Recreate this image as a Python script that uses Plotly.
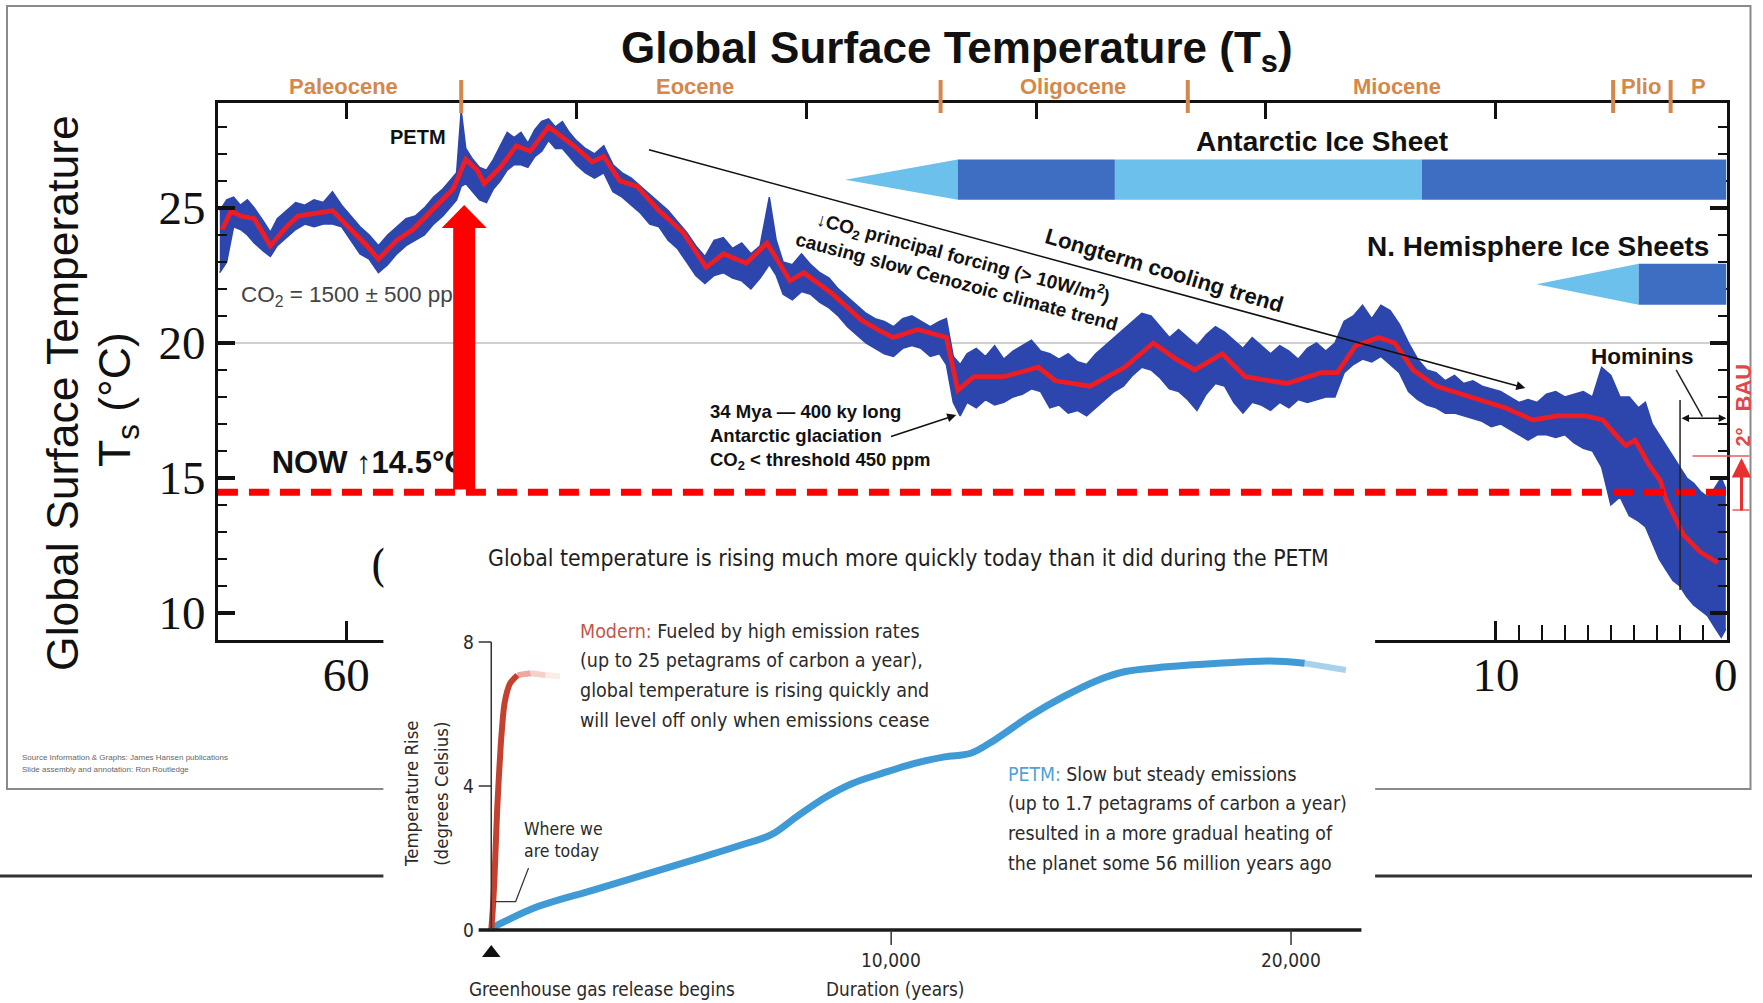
import plotly.graph_objects as go

W, H = 1763, 1003
# the page is photographed about 0.6 % narrower than the layout width; place
# everything against that effective width so positions land where intended
W_EFF = 1752.5


def px(x):
    return x / W_EFF


def py(y):
    return 1 - y / H


# ------------------------------------------------------------------
# Main chart data (age in Myr before present, temperature in deg C)
# ------------------------------------------------------------------
red_age = [65.4, 65.0, 64.6, 64.0, 63.3, 62.6, 62.1, 61.3, 60.6, 59.8,
           59.1, 58.6, 57.8, 57.1, 56.1, 55.35, 54.8, 54.3, 54.0, 53.3,
           52.6, 52.0, 51.2, 50.7, 50.1, 49.3, 48.8, 48.1, 47.35, 46.4,
           45.35, 44.35, 43.6, 42.6, 41.7, 40.7, 40.1, 38.9, 37.6, 36.9,
           36.2, 35.15, 33.9, 33.4, 32.7, 31.4, 29.9, 29.15, 27.65, 26.15,
           24.9, 23.9, 23.1, 21.9, 20.9, 19.1, 17.6, 16.9, 16.1, 15.1,
           14.4, 13.6, 12.6, 11.1, 9.6, 8.4, 7.35, 6.1, 5.35, 4.85,
           4.35, 3.95, 3.35, 2.85, 2.6, 1.85, 1.1, 0.35]
red_temp = [24.2, 24.9, 24.7, 24.6, 23.6, 24.3, 24.7, 24.8, 24.9, 24.2,
            23.6, 23.1, 23.8, 24.2, 25.05, 25.7, 26.8, 26.4, 25.9, 26.5,
            27.3, 27.1, 28.0, 27.7, 27.3, 26.7, 26.9, 26.0, 25.8, 24.9,
            24.1, 22.8, 23.3, 22.95, 23.7, 22.3, 22.6, 21.85, 20.85, 20.5,
            20.2, 20.5, 20.2, 18.25, 18.75, 18.75, 19.1, 18.6, 18.4, 19.1,
            20.0, 19.4, 19.0, 19.6, 18.75, 18.5, 18.9, 18.9, 19.9, 20.2,
            20.0, 19.0, 18.4, 18.0, 17.6, 17.15, 17.3, 17.3, 17.15, 16.65,
            16.2, 16.4, 15.5, 14.9, 14.2, 12.9, 12.25, 11.86]

blue_age = [65.5, 65.2, 64.9, 64.6, 64.3, 64.0, 63.6, 63.3, 63.0, 62.6,
            62.2, 61.8, 61.4, 61.0, 60.6, 60.2, 59.8, 59.4, 59.0, 58.6,
            58.2, 57.8, 57.4, 57.0, 56.6, 56.2, 55.8, 55.5, 55.2, 55.0,
            54.8, 54.5, 54.2, 53.9, 53.6, 53.3, 53.0, 52.7, 52.4, 52.1,
            51.8, 51.5, 51.2, 50.9, 50.6, 50.3, 50.0, 49.6, 49.2, 48.8,
            48.4, 48.0, 47.6, 47.2, 46.8, 46.4, 46.0, 45.6, 45.2, 44.8,
            44.4, 44.0, 43.6, 43.2, 42.8, 42.4, 42.0, 41.6, 41.3, 41.0,
            40.6, 40.2, 39.8, 39.4, 39.0, 38.6, 38.2, 37.8, 37.4, 37.0,
            36.6, 36.2, 35.8, 35.4, 35.0, 34.6, 34.2, 33.9, 33.6, 33.3,
            33.0, 32.6, 32.2, 31.8, 31.4, 31.0, 30.6, 30.2, 29.8, 29.4,
            29.0, 28.6, 28.2, 27.8, 27.4, 27.0, 26.6, 26.2, 25.8, 25.4,
            25.0, 24.6, 24.2, 23.8, 23.4, 23.0, 22.6, 22.2, 21.8, 21.4,
            21.0, 20.6, 20.2, 19.8, 19.4, 19.0, 18.6, 18.2, 17.8, 17.4,
            17.0, 16.6, 16.2, 15.8, 15.4, 15.0, 14.6, 14.2, 13.8, 13.4,
            13.0, 12.6, 12.2, 11.8, 11.4, 11.0, 10.6, 10.2, 9.8, 9.4,
            9.0, 8.6, 8.2, 7.8, 7.4, 7.0, 6.6, 6.2, 5.8, 5.4,
            5.0, 4.6, 4.2, 3.8, 3.5, 3.2, 2.9, 2.6, 2.3, 2.0,
            1.7, 1.4, 1.1, 0.8, 0.5, 0.2, 0.0]
blue_hi = [24.9, 25.3, 25.4, 25.1, 25.3, 25.0, 24.5, 24.1, 24.6, 24.9,
           25.2, 25.1, 25.3, 25.2, 25.6, 25.1, 24.7, 24.3, 24.0, 23.6,
           24.0, 24.3, 24.6, 24.7, 25.0, 25.4, 25.7, 26.0, 26.3, 28.6,
           27.2, 26.8, 26.5, 26.4, 26.8, 27.3, 27.8, 27.6, 27.8, 27.4,
           27.9, 28.2, 28.3, 28.0, 28.2, 27.8, 27.5, 27.2, 27.0, 27.3,
           26.6, 26.3, 26.1, 25.8, 25.5, 25.2, 24.9, 24.5, 24.1, 23.6,
           23.2, 23.8, 23.9, 23.5, 23.7, 23.3, 23.6, 25.4, 23.8, 23.0,
           22.9, 23.3, 22.9, 22.6, 22.4, 22.0, 21.7, 21.4, 21.1, 20.9,
           20.8, 20.6, 20.9, 21.0, 20.8, 20.6, 20.8, 20.9, 19.5, 19.2,
           19.6, 19.8, 19.5, 19.9, 19.4, 19.7, 19.9, 20.1, 19.7, 19.6,
           19.4, 19.6, 19.3, 19.2, 19.6, 19.9, 20.2, 20.5, 20.8, 21.1,
           21.0, 20.6, 20.2, 20.5, 20.2, 19.9, 20.3, 20.6, 20.4, 20.1,
           19.8, 20.2, 19.9, 19.6, 19.9, 19.7, 19.4, 19.8, 20.0, 19.7,
           20.0, 20.8, 21.0, 21.4, 20.9, 21.4, 21.2, 20.7, 20.0, 19.4,
           19.0, 18.9, 18.6, 18.8, 18.5, 18.6, 18.4, 18.3, 18.2, 18.0,
           17.8, 17.9, 17.8, 18.1, 18.2, 18.0, 18.1, 18.2, 18.0, 19.1,
           18.8, 18.0, 18.0, 17.6, 17.8, 17.0, 16.6, 16.2, 15.8, 15.4,
           15.0, 14.8, 14.5, 14.3, 14.6, 15.0, 14.6]
blue_lo = [22.6, 23.0, 24.3, 24.2, 24.0, 23.7, 23.4, 23.2, 23.6, 23.9,
           24.2, 24.4, 24.3, 24.4, 24.4, 24.3, 23.8, 23.3, 23.1, 22.6,
           22.9, 23.3, 23.6, 23.8, 24.0, 24.4, 24.7, 25.0, 25.3, 25.8,
           25.9, 25.6, 25.3, 25.2, 25.7, 26.0, 26.4, 26.6, 26.6, 26.5,
           26.9, 27.1, 27.5, 27.2, 27.2, 26.9, 26.6, 26.3, 26.1, 26.3,
           25.6, 25.4, 25.1, 24.8, 24.4, 24.3, 23.8, 23.5, 23.0, 22.5,
           22.2, 22.5, 22.6, 22.4, 22.3, 22.0, 22.4, 22.9, 22.5, 21.8,
           21.6, 21.9, 21.8, 21.5, 21.3, 21.0, 20.6, 20.3, 20.0, 19.8,
           19.6, 19.5, 19.8, 19.9, 19.8, 19.5, 19.6, 19.2, 17.8, 17.3,
           17.8, 17.6, 17.9, 17.7, 17.8, 18.0, 18.1, 18.3, 18.2, 17.6,
           17.7, 17.4, 17.5, 17.3, 17.6, 17.9, 18.2, 18.4, 18.8, 19.1,
           19.0, 18.7, 18.3, 18.2, 17.9, 17.5, 18.1, 18.5, 18.4, 17.8,
           17.4, 17.8, 17.7, 17.5, 17.8, 17.6, 17.9, 17.8, 17.9, 18.0,
           18.0, 18.9, 19.2, 19.4, 19.3, 19.5, 19.2, 18.9, 18.2, 17.9,
           17.7, 17.6, 17.4, 17.4, 17.3, 17.2, 17.1, 16.9, 17.0, 16.8,
           16.6, 16.4, 16.6, 16.6, 16.5, 16.6, 16.3, 16.1, 16.0, 15.4,
           14.0, 14.3, 13.6, 13.4, 13.2, 12.6, 12.0, 11.6, 11.2, 11.0,
           10.6, 10.3, 10.1, 9.9, 9.5, 9.1, 9.4]

x_ticks = [60, 50, 40, 30, 20, 10, 0]
x_ticktext = ["60", "50", "40", "30", "20", "10", "0"]
x_minor = [9, 8, 7, 6, 5, 4, 3, 2, 1]
y_ticks = [10, 15, 20, 25]
y_minor = [11, 12, 13, 14, 16, 17, 18, 19, 21, 22, 23, 24, 26, 27, 28]

epoch_names = ["Paleocene", "Eocene", "Oligocene", "Miocene", "Plio", "P"]
epoch_label_age = [60.1, 44.85, 28.4, 14.3, 3.7, 1.2]
epoch_bounds = [55.0, 34.15, 23.4, 4.9, 2.4]

# ice sheets
antarctic_tip = [38.3, 33.4]
antarctic_blocks = [(33.4, 26.57, "dark"), (26.57, 13.22, "light"), (13.22, -0.03, "dark")]
antarctic_band = [25.30, 26.79]
nh_tip = [8.24, 3.79]
nh_blocks = [(3.79, -0.03, "dark")]
nh_band = [21.41, 22.93]

now_temp = 14.47
petm_arrow_age = 54.87
petm_arrow_top = 25.11

# ------------------------------------------------------------------
# Inset data (years since release, temperature rise in deg C)
# ------------------------------------------------------------------
petm_years = [0, 1165, 2550, 3940, 5330, 6250, 6990, 7640, 8380, 9030,
              9770, 10590, 11340, 11990, 12590, 13450, 14310, 15170, 15860, 16890,
              18185, 19475, 20340, 21370]
petm_rise = [0.05, 0.65, 1.11, 1.57, 2.04, 2.36, 2.64, 3.15, 3.70, 4.07,
             4.35, 4.63, 4.81, 4.91, 5.28, 5.93, 6.48, 6.94, 7.18, 7.31,
             7.41, 7.47, 7.41, 7.22]
modern_years = [0, 40, 82, 147, 240, 332, 470, 655, 980, 1350, 1715]
modern_rise = [0.0, 0.6, 1.48, 3.33, 5.19, 6.30, 6.85, 7.08, 7.13, 7.08, 7.04]
inset_xticks = [10000, 20000]
inset_xticktext = ["10,000", "20,000"]
inset_yticks = [0, 4, 8]

modern_lines = ["<span style='color:#c0574a'>Modern:</span> Fueled by high emission rates",
                "(up to 25 petagrams of carbon a year),",
                "global temperature is rising quickly and",
                "will level off only when emissions cease"]
petm_lines = ["<span style='color:#4ea2d6'>PETM:</span> Slow but steady emissions",
              "(up to 1.7 petagrams of carbon a year)",
              "resulted in a more gradual heating of",
              "the planet some 56 million years ago"]

# ------------------------------------------------------------------
SANS = "Liberation Sans, Arial, sans-serif"
SERIF = "Liberation Serif, Times New Roman, serif"
NARROW = "DejaVu Sans Condensed, Liberation Sans Narrow, sans-serif"
BLUE_DATA = "#2c46ad"
RED = "#ee1c24"
ORANGE = "#d4884c"
ICE_LIGHT = "#6cc0ec"
ICE_DARK = "#3e6ec2"
INSET_BLUE = "#3f9ad6"
INSET_RED = "#c4412f"
INK = "#111111"
GREY_TXT = "#2a2a2a"

fig = go.Figure()

fig.add_trace(go.Scatter(x=blue_age, y=blue_lo, mode="lines",
                         line=dict(color=BLUE_DATA, width=1.5),
                         hoverinfo="skip", showlegend=False))
fig.add_trace(go.Scatter(x=blue_age, y=blue_hi, mode="lines", fill="tonexty",
                         fillcolor=BLUE_DATA,
                         line=dict(color=BLUE_DATA, width=1.5),
                         hoverinfo="skip", showlegend=False))
fig.add_trace(go.Scatter(x=red_age, y=red_temp, mode="lines",
                         line=dict(color=RED, width=4.8),
                         hoverinfo="skip", showlegend=False))

# text that sits beneath the big red arrow / inset box
fig.add_trace(go.Scatter(x=[64.58], y=[21.71], mode="text",
                         text=["CO<sub>2</sub> = 1500 ± 500 ppm"],
                         textposition="middle right",
                         textfont=dict(family=SANS, size=22.5, color="#444"),
                         hoverinfo="skip", showlegend=False))
fig.add_trace(go.Scatter(x=[63.24], y=[15.48], mode="text",
                         text=["<b>NOW ↑14.5°C</b>"],
                         textposition="middle right",
                         textfont=dict(family=SANS, size=31, color=INK),
                         hoverinfo="skip", showlegend=False))
fig.add_trace(go.Scatter(x=[58.9], y=[11.67], mode="text",
                         text=["(C"], textposition="middle right",
                         textfont=dict(family=SERIF, size=46, color=INK),
                         hoverinfo="skip", showlegend=False))

# dummy trace so the top (epoch-tick) axis is drawn
fig.add_trace(go.Scatter(x=[30], y=[20], xaxis="x3", yaxis="y", mode="markers",
                         marker=dict(opacity=0), hoverinfo="skip", showlegend=False))

# ---------------- inset traces ----------------
fig.add_trace(go.Scatter(x=petm_years[:-1], y=petm_rise[:-1], xaxis="x2", yaxis="y2",
                         mode="lines", line=dict(color=INSET_BLUE, width=7, shape="spline", smoothing=1),
                         hoverinfo="skip", showlegend=False))
fig.add_trace(go.Scatter(x=petm_years[-2:], y=petm_rise[-2:], xaxis="x2", yaxis="y2",
                         mode="lines", opacity=0.45,
                         line=dict(color=INSET_BLUE, width=6),
                         hoverinfo="skip", showlegend=False))
fig.add_trace(go.Scatter(x=modern_years[:8], y=modern_rise[:8], xaxis="x2", yaxis="y2",
                         mode="lines", line=dict(color=INSET_RED, width=6, shape="spline", smoothing=0.6),
                         hoverinfo="skip", showlegend=False))
for i, op in zip(range(7, 10), [0.55, 0.3, 0.12]):
    fig.add_trace(go.Scatter(x=modern_years[i:i + 2], y=modern_rise[i:i + 2], xaxis="x2", yaxis="y2",
                             mode="lines", opacity=op,
                             line=dict(color="#d9684f", width=6),
                             hoverinfo="skip", showlegend=False))
fig.add_trace(go.Scatter(x=[0], y=[-0.64], xaxis="x2", yaxis="y2", mode="markers",
                         marker=dict(symbol="triangle-up", size=16, color="#111"),
                         hoverinfo="skip", showlegend=False))

# ------------------------------------------------------------------
shapes = []
shapes.append(dict(type="rect", xref="paper", yref="paper", x0=px(7), x1=px(1751),
                   y0=py(6), y1=py(789), line=dict(color="#8a8a8a", width=2), layer="below"))
shapes.append(dict(type="line", xref="paper", yref="paper", x0=0, x1=1,
                   y0=py(876), y1=py(876), line=dict(color="#333", width=3), layer="below"))
shapes.append(dict(type="line", xref="x", yref="y", x0=65.58, x1=-0.03, y0=20, y1=20,
                   line=dict(color="#d0d0d0", width=2), layer="below"))
for b in epoch_bounds:
    shapes.append(dict(type="line", xref="x", yref="paper", x0=b, x1=b,
                       y0=py(80), y1=py(113), line=dict(color=ORANGE, width=4), layer="above"))


def ice_sheet(tip, blocks, band):
    lo, hi = band
    mid = (lo + hi) / 2
    out = [dict(type="path", xref="x", yref="y",
                path=f"M {tip[0]},{mid} L {tip[1]},{hi} L {tip[1]},{lo} Z",
                fillcolor=ICE_LIGHT, line=dict(width=0), layer="above")]
    for a0, a1, kind in blocks:
        out.append(dict(type="rect", xref="x", yref="y", x0=a0, x1=a1, y0=lo, y1=hi,
                        fillcolor=ICE_DARK if kind == "dark" else ICE_LIGHT,
                        line=dict(width=0), layer="above"))
    return out


shapes += ice_sheet(antarctic_tip, antarctic_blocks, antarctic_band)
shapes += ice_sheet(nh_tip, nh_blocks, nh_band)

shapes.append(dict(type="line", xref="x", yref="y", x0=65.58, x1=-0.03, y0=now_temp, y1=now_temp,
                   line=dict(color="#ff0000", width=7, dash="20px,11px"), layer="above"))
shapes.append(dict(type="rect", xref="x", yref="y", x0=petm_arrow_age + 0.478, x1=petm_arrow_age - 0.478,
                   y0=now_temp + 0.1, y1=24.3, fillcolor="#ff0000", line=dict(width=0), layer="above"))
shapes.append(dict(type="path", xref="x", yref="y",
                   path=f"M {petm_arrow_age + 0.98},24.26 L {petm_arrow_age - 0.98},24.26 L {petm_arrow_age},{petm_arrow_top} Z",
                   fillcolor="#ff0000", line=dict(width=0), layer="above"))
shapes.append(dict(type="line", xref="x", yref="y", x0=1.99, x1=1.99, y0=17.89, y1=10.85,
                   line=dict(color="#222", width=1.5), layer="above"))
shapes.append(dict(type="line", xref="x", yref="y", x0=2.16, x1=1.02, y0=19.0, y1=17.27,
                   line=dict(color="#222", width=1.5), layer="above"))
shapes.append(dict(type="line", xref="paper", yref="paper", x0=px(1693), x1=px(1750), y0=py(456), y1=py(456),
                   line=dict(color="#e85a5a", width=1.5), layer="above"))
shapes.append(dict(type="line", xref="paper", yref="paper", x0=px(1733), x1=px(1750), y0=py(510), y1=py(510),
                   line=dict(color="#e85a5a", width=1.5), layer="above"))

# inset axes drawn by hand
shapes.append(dict(type="line", xref="x2", yref="y2", x0=-315, x1=21760, y0=0, y1=0,
                   line=dict(color="#1a1a1a", width=3.5), layer="above"))
shapes.append(dict(type="line", xref="x2", yref="y2", x0=0, x1=0, y0=0, y1=8,
                   line=dict(color="#333", width=1.5), layer="above"))
for v in inset_yticks[1:]:
    shapes.append(dict(type="line", xref="x2", yref="y2", x0=-315, x1=0, y0=v, y1=v,
                       line=dict(color="#333", width=1.5), layer="above"))
for v in inset_xticks:
    shapes.append(dict(type="line", xref="x2", yref="y2", x0=v, x1=v, y0=0, y1=-0.42,
                       line=dict(color="#333", width=1.5), layer="above"))
shapes.append(dict(type="path", xref="x2", yref="y2", path="M 932,1.72 L 610,0.79 L 100,0.79",
                   line=dict(color="#333", width=1.2), layer="above"))

# ------------------------------------------------------------------
ann = []


def note(text, x, y, size, family=SANS, color=INK, xanchor="center", angle=0, **kw):
    d = dict(xref="paper", yref="paper", x=px(x), y=py(y), showarrow=False, text=text,
             xanchor=xanchor, yanchor="middle", textangle=angle, borderpad=0,
             font=dict(family=family, size=size, color=color))
    d.update(kw)
    ann.append(d)


note("<b>Global Surface Temperature (T<sub>s</sub>)</b>", 957, 51, 44)
for name, a in zip(epoch_names, epoch_label_age):
    ann.append(dict(xref="x", yref="paper", x=a, y=py(87), showarrow=False, text=f"<b>{name}</b>",
                    xanchor="center", yanchor="middle",
                    font=dict(family=SANS, size=22, color=ORANGE)))
note("Global Surface Temperature", 62, 393, 44.5, angle=-90)
note("T<sub>s</sub> (°C)", 118, 399, 44.5, angle=-90)

ann.append(dict(xref="x", yref="y", x=56.89, y=27.63, showarrow=False, text="<b>PETM</b>",
                font=dict(family=SANS, size=20, color=INK)))
ann.append(dict(xref="x", yref="y", x=17.55, y=27.46, showarrow=False, text="<b>Antarctic Ice Sheet</b>",
                font=dict(family=SANS, size=28, color=INK)))
ann.append(dict(xref="x", yref="y", x=8.19, y=23.57, showarrow=False, text="<b>N. Hemisphere Ice Sheets</b>",
                font=dict(family=SANS, size=28, color=INK)))
ann.append(dict(xref="x", yref="y", x=24.4, y=22.70, showarrow=False, textangle=16.5,
                text="<b>Longterm cooling trend</b>", font=dict(family=SANS, size=22, color=INK)))
ann.append(dict(xref="x", yref="y", x=33.3, y=22.75, showarrow=False, textangle=15,
                text="<b>↓CO<sub>2</sub> principal forcing (&gt; 10W/m<sup>2</sup>)<br>causing slow Cenozoic climate trend</b>",
                font=dict(family=SANS, size=19, color=INK)))
ann.append(dict(xref="x", yref="y", x=44.28, y=16.52, showarrow=False, xanchor="left", align="left",
                text="<b>34 Mya — 400 ky long<br>Antarctic glaciation<br>CO<sub>2</sub> &lt; threshold 450 ppm</b>",
                font=dict(family=SANS, size=18.5, color=INK)))
ann.append(dict(xref="x", yref="y", x=3.62, y=19.48, showarrow=False, text="<b>Hominins</b>",
                font=dict(family=SANS, size=22.5, color=INK)))
ann.append(dict(xref="x", yref="y", axref="x", ayref="y", x=8.72, y=18.33, ax=46.9, ay=27.17,
                text="", showarrow=True, arrowhead=2, arrowsize=1.2, arrowwidth=1.5, arrowcolor="#111"))
ann.append(dict(xref="x", yref="y", axref="x", ayref="y", x=33.47, y=17.33, ax=36.37, ay=16.52,
                text="", showarrow=True, arrowhead=2, arrowsize=1.2, arrowwidth=1.5, arrowcolor="#111"))
ann.append(dict(xref="x", yref="y", axref="x", ayref="y", x=-0.02, y=17.21, ax=1.99, ay=17.21,
                text="", showarrow=True, arrowhead=2, arrowside="end+start", arrowsize=1,
                arrowwidth=1.5, arrowcolor="#111"))

note("<b>BAU</b>", 1743, 388, 22, color="#e04848", angle=-90)
note("<b>2°</b>", 1743, 437, 20, color="#e04848", angle=-90)
ann.append(dict(xref="paper", yref="paper", axref="pixel", ayref="pixel",
                x=px(1742), y=py(458), ax=0, ay=54, text="", showarrow=True,
                arrowhead=2, arrowsize=1.3, arrowwidth=3, arrowcolor="#e83030"))
note("Source Information &amp; Graphs: James Hansen publications", 21, 757, 8, color="#666", xanchor="left")
note("Slide assembly and annotation: Ron Routledge", 21, 769, 8, color="#666", xanchor="left")

# ---- inset texts ----
note("Global temperature is rising much more quickly today than it did during the PETM",
     487, 558, 22.8, family=NARROW, color="#1e1e1e", xanchor="left")
for i, line in enumerate(modern_lines):
    note(line, 579, 631 + 29.7 * i, 19.5, family=NARROW, color=GREY_TXT, xanchor="left")
for i, line in enumerate(petm_lines):
    note(line, 1007, 774 + 29.7 * i, 19.3, family=NARROW, color=GREY_TXT, xanchor="left")
note("Where we", 523, 829, 17.5, family=NARROW, color=GREY_TXT, xanchor="left")
note("are today", 523, 851, 17.5, family=NARROW, color=GREY_TXT, xanchor="left")
note("Temperature Rise", 411, 794, 18.5, family=NARROW, color=GREY_TXT, angle=-90)
note("(degrees Celsius)", 441, 794, 18.5, family=NARROW, color=GREY_TXT, angle=-90)
for v in inset_yticks:
    ann.append(dict(xref="x2", yref="y2", x=-315, y=v, xanchor="right", yanchor="middle", xshift=-3,
                    showarrow=False, text=str(v), font=dict(family=NARROW, size=19, color=GREY_TXT)))
for v, t in zip(inset_xticks, inset_xticktext):
    ann.append(dict(xref="x2", yref="paper", x=v, y=py(960), xanchor="center", yanchor="middle",
                    showarrow=False, text=t, font=dict(family=NARROW, size=19, color=GREY_TXT)))
note("Greenhouse gas release begins", 602, 989, 18.8, family=NARROW, color=GREY_TXT)
note("Duration (years)", 895, 989, 18.8, family=NARROW, color=GREY_TXT)

fig.update_layout(
    width=W, height=H, autosize=False, margin=dict(l=0, r=0, t=0, b=0),
    paper_bgcolor="white", plot_bgcolor="white", showlegend=False,
    shapes=shapes, annotations=ann,
    xaxis=dict(domain=[px(218), px(1727)], range=[65.58, -0.03], anchor="y",
               showline=True, linecolor=INK, linewidth=3, mirror=False,
               ticks="inside", ticklen=19, tickwidth=3, tickcolor=INK,
               tickmode="array", tickvals=x_ticks, ticktext=x_ticktext,
               tickfont=dict(family=SERIF, size=47, color=INK), ticklabelstandoff=-8,
               minor=dict(tickmode="array", tickvals=x_minor, ticks="inside",
                          ticklen=15, tickwidth=2, tickcolor=INK),
               showgrid=False, zeroline=False),
    xaxis3=dict(overlaying="x", side="top", anchor="y", range=[65.58, -0.03],
                showline=True, linecolor=INK, linewidth=3,
                ticks="inside", ticklen=16, tickwidth=3, tickcolor=INK,
                tickmode="array", tickvals=x_ticks[:-1], showticklabels=False,
                showgrid=False, zeroline=False),
    yaxis=dict(domain=[py(640), py(103.4)], range=[9.0, 28.87], anchor="x",
               showline=True, linecolor=INK, linewidth=3, mirror="ticks",
               ticks="inside", ticklen=17, tickwidth=4, tickcolor=INK,
               tickmode="array", tickvals=y_ticks,
               tickfont=dict(family=SERIF, size=47, color=INK),
               minor=dict(tickmode="array", tickvals=y_minor, ticks="inside",
                          ticklen=9, tickwidth=2, tickcolor=INK),
               showgrid=False, zeroline=False),
    xaxis2=dict(domain=[px(383.5), px(1375.5)], range=[-2697.5, 22102.5], anchor="y2",
                showline=False, ticks="", showticklabels=False, showgrid=False, zeroline=False),
    yaxis2=dict(domain=[0, py(500)], range=[-2.028, 11.944], anchor="x2",
                showline=False, ticks="", showticklabels=False, showgrid=False, zeroline=False),
)

fig.write_html("out.html",
               config={"responsive": False, "displayModeBar": False},
               post_script="document.body.style.margin='0px';document.body.style.overflow='hidden';")
